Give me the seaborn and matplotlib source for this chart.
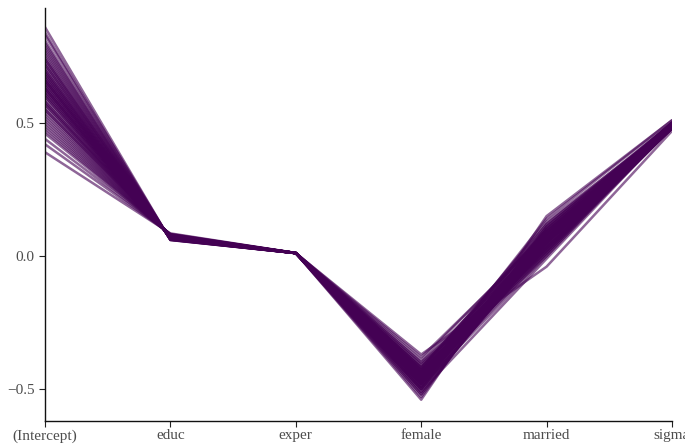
import matplotlib
matplotlib.use("Agg")
import matplotlib.pyplot as plt
import seaborn as sns
import pandas as pd

# Posterior draws (one entry per draw)
PARAMS = ["(Intercept)", "educ", "exper", "female", "married", "sigma"]

intercept = [0.39, 0.42, 0.44, 0.46, 0.47, 0.48, 0.49, 0.50, 0.51, 0.52,
             0.53, 0.54, 0.55, 0.55, 0.56, 0.57, 0.58, 0.58, 0.59, 0.60,
             0.60, 0.61, 0.61, 0.62, 0.62, 0.63, 0.63, 0.64, 0.64, 0.65,
             0.65, 0.66, 0.66, 0.67, 0.67, 0.68, 0.68, 0.69, 0.69, 0.70,
             0.70, 0.71, 0.72, 0.72, 0.73, 0.74, 0.74, 0.75, 0.76, 0.77,
             0.78, 0.79, 0.80, 0.81, 0.83, 0.84, 0.86, 0.57, 0.63, 0.66]
educ = [0.085, 0.083, 0.082, 0.081, 0.080, 0.080, 0.079, 0.079, 0.078, 0.078,
        0.077, 0.077, 0.076, 0.077, 0.076, 0.075, 0.075, 0.074, 0.074, 0.074,
        0.073, 0.073, 0.072, 0.072, 0.073, 0.071, 0.072, 0.071, 0.070, 0.070,
        0.071, 0.069, 0.070, 0.069, 0.068, 0.068, 0.069, 0.067, 0.068, 0.067,
        0.066, 0.066, 0.065, 0.066, 0.065, 0.064, 0.065, 0.064, 0.063, 0.063,
        0.062, 0.062, 0.062, 0.061, 0.061, 0.060, 0.060, 0.076, 0.072, 0.070]
exper = [0.0115, 0.0112, 0.0110, 0.0113, 0.0108, 0.0111, 0.0109, 0.0114, 0.0110, 0.0107,
         0.0112, 0.0109, 0.0111, 0.0106, 0.0113, 0.0110, 0.0108, 0.0112, 0.0109, 0.0111,
         0.0107, 0.0113, 0.0110, 0.0108, 0.0112, 0.0110, 0.0106, 0.0111, 0.0109, 0.0113,
         0.0108, 0.0110, 0.0112, 0.0107, 0.0111, 0.0109, 0.0113, 0.0110, 0.0108, 0.0112,
         0.0106, 0.0111, 0.0109, 0.0113, 0.0110, 0.0107, 0.0112, 0.0109, 0.0111, 0.0108,
         0.0113, 0.0110, 0.0112, 0.0107, 0.0110, 0.0111, 0.0109, 0.0114, 0.0106, 0.0110]
female = [-0.45, -0.48, -0.43, -0.50, -0.46, -0.41, -0.47, -0.44, -0.52, -0.42,
          -0.49, -0.45, -0.40, -0.48, -0.46, -0.43, -0.51, -0.44, -0.47, -0.39,
          -0.50, -0.45, -0.42, -0.48, -0.46, -0.44, -0.53, -0.41, -0.47, -0.45,
          -0.49, -0.43, -0.46, -0.50, -0.38, -0.44, -0.48, -0.46, -0.42, -0.51,
          -0.45, -0.47, -0.43, -0.49, -0.44, -0.47, -0.40, -0.50, -0.46, -0.42,
          -0.48, -0.45, -0.52, -0.44, -0.47, -0.43, -0.49, -0.54, -0.37, -0.46]
married = [0.05, 0.08, 0.02, 0.10, 0.06, 0.03, 0.09, 0.01, 0.07, 0.04,
           0.11, 0.00, 0.06, 0.08, 0.03, 0.12, 0.05, 0.07, 0.02, 0.09,
           0.04, 0.06, 0.10, 0.01, 0.08, 0.05, 0.11, 0.03, 0.07, 0.13,
           0.00, 0.06, 0.09, 0.04, 0.08, 0.02, 0.10, 0.05, 0.07, -0.01,
           0.11, 0.06, 0.03, 0.09, 0.05, 0.12, 0.02, 0.07, 0.04, 0.10,
           0.06, 0.01, 0.08, 0.05, 0.03, 0.09, 0.06, 0.15, -0.04, 0.14]
sigma = [0.49, 0.50, 0.48, 0.49, 0.50, 0.48, 0.49, 0.50, 0.49, 0.48,
         0.50, 0.49, 0.49, 0.50, 0.48, 0.49, 0.50, 0.49, 0.48, 0.49,
         0.50, 0.49, 0.49, 0.48, 0.50, 0.49, 0.50, 0.49, 0.48, 0.49,
         0.50, 0.49, 0.48, 0.49, 0.50, 0.49, 0.49, 0.48, 0.50, 0.49,
         0.49, 0.50, 0.48, 0.49, 0.49, 0.50, 0.49, 0.48, 0.49, 0.50,
         0.49, 0.49, 0.50, 0.48, 0.49, 0.49, 0.50, 0.51, 0.47, 0.51]

LINE_COLOR = "#440154"

draws = pd.DataFrame({
    "(Intercept)": intercept, "educ": educ, "exper": exper,
    "female": female, "married": married, "sigma": sigma,
})
draws["draw"] = range(len(draws))
long_df = draws.melt(id_vars="draw", value_vars=PARAMS,
                     var_name="parameter", value_name="value")

sns.set_style("ticks")
plt.rcParams["font.family"] = ["Liberation Serif", "DejaVu Serif"]

fig = plt.figure(figsize=(6.85, 4.44), dpi=100)
ax = fig.add_axes([0.0657, 0.0518, 0.9153, 0.9302])

sns.lineplot(data=long_df, x="parameter", y="value", units="draw",
             estimator=None, color=LINE_COLOR, alpha=0.6, linewidth=1.8,
             sort=False, ax=ax)

ax.set_xlim(0, len(PARAMS) - 1)
ax.set_ylim(-0.62, 0.932)
ax.set_yticks([-0.5, 0.0, 0.5])
ax.set_yticklabels(["\u22120.5", "0.0", "0.5"])
ax.set_xlabel("")
ax.set_ylabel("")
ax.tick_params(axis="both", labelsize=11, labelcolor="#4d4d4d",
               length=4, width=0.8, color="#222222")
ax.tick_params(axis="x", pad=2)
for side in ["left", "bottom"]:
    ax.spines[side].set_color("#111111")
    ax.spines[side].set_linewidth(1.0)
sns.despine(ax=ax)

fig.savefig("out.png", dpi=100)
